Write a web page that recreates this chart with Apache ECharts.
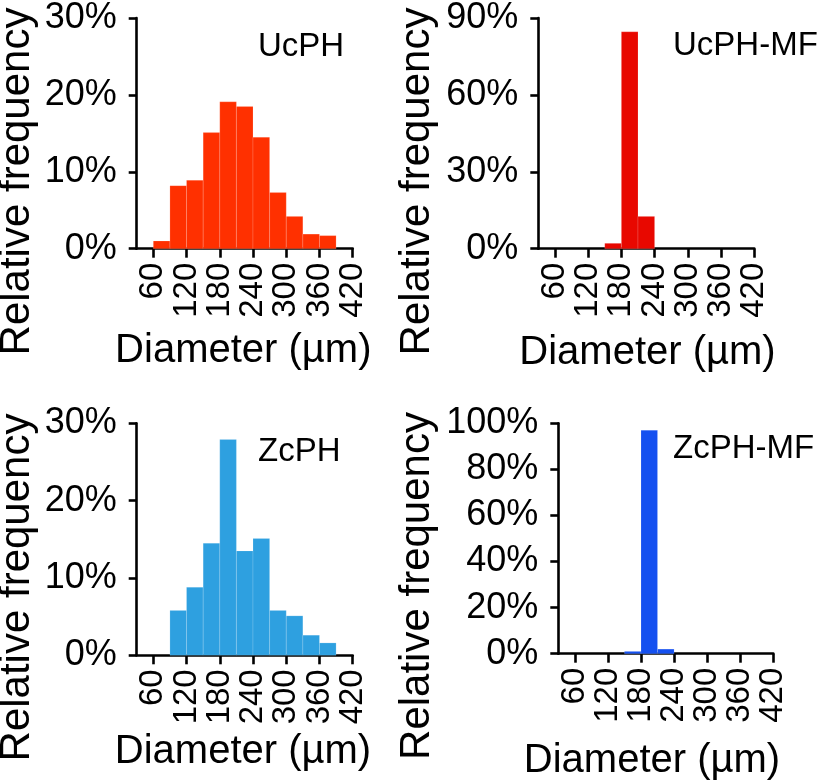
<!DOCTYPE html>
<html>
<head>
<meta charset="utf-8">
<script src="https://cdn.jsdelivr.net/npm/echarts@6/dist/echarts.min.js"></script>
<style>
html,body{margin:0;padding:0;background:#fff;}
#chart{width:819px;height:782px;}
</style>
</head>
<body>
<div id="chart"></div>
<script>
// ---- data ----
const xTickValues = [60, 120, 180, 240, 300, 360, 420];
const xTickLabels = ['60', '120', '180', '240', '300', '360', '420'];
const binStarts = [60, 90, 120, 150, 180, 210, 240, 270, 300, 330, 360];
const binWidth = 30;
const ucph   = [1.0, 8.2, 8.9, 15.1, 19.1, 18.5, 14.5, 7.3, 4.2, 1.9, 1.7];
const ucphMF = [0, 0, 0, 2.1, 84.6, 12.6, 0, 0, 0, 0, 0];
const zcph   = [0, 5.8, 8.8, 14.5, 27.9, 13.5, 15.1, 5.8, 5.1, 2.6, 1.6];
const zcphMF = [0, 0, 0, 1.0, 97.0, 2.0, 0, 0, 0, 0, 0];
const panelNames = ['UcPH', 'UcPH-MF', 'ZcPH', 'ZcPH-MF'];
const yMax = [30, 90, 30, 100];
const yInterval = [10, 30, 10, 20];
const xTitle = 'Diameter (µm)';
const yTitle = 'Relative frequency';

const FONT = '"Liberation Sans", Arial, Helvetica, sans-serif';
const colors = ['#FF3000', '#E80800', '#2EA0E0', '#1450F0'];
const series_vals = [ucph, ucphMF, zcph, zcphMF];
const grids = [
  {left: 136.7, top: 16.7, width: 216, height: 232},
  {left: 538.3, top: 16.7, width: 216, height: 232},
  {left: 136.7, top: 423.3, width: 216, height: 232},
  {left: 558.3, top: 423.3, width: 215, height: 230.4}
];

const axisLine = {show: true, onZero: false, lineStyle: {color: '#000', width: 2.6}};
const axisTickStyle = {color: '#000', width: 2.6};

const xAxes = grids.map((g, i) => ({
  type: 'value', gridIndex: i, min: 30, max: 420,
  axisLine: axisLine,
  axisTick: {show: true, length: 9, inside: false, lineStyle: axisTickStyle, customValues: xTickValues},
  axisLabel: {
    show: true, customValues: xTickValues, rotate: 90, margin: 14,
    hideOverlap: false, showMinLabel: true, showMaxLabel: true,
    fontSize: 33, fontFamily: FONT, color: '#000',
    formatter: v => xTickLabels[xTickValues.indexOf(v)]
  },
  splitLine: {show: false}
}));
const yAxes = grids.map((g, i) => ({
  type: 'value', gridIndex: i, min: 0, max: yMax[i], interval: yInterval[i],
  axisLine: axisLine,
  axisTick: {show: true, length: 8, inside: false, lineStyle: axisTickStyle},
  axisLabel: {show: true, margin: 20, fontSize: 36, fontFamily: FONT, color: '#000', formatter: '{value}%',
    hideOverlap: false, showMinLabel: true, showMaxLabel: true},
  splitLine: {show: false}
}));

const series = series_vals.map((vals, i) => ({
  type: 'custom', xAxisIndex: i, yAxisIndex: i,
  encode: {x: [0, 1], y: 2},
  data: binStarts.map((s, k) => [s, s + binWidth, vals[k]]).filter(d => d[2] > 0),
  renderItem: function (params, api) {
    const p0 = api.coord([api.value(0), api.value(2)]);
    const p1 = api.coord([api.value(1), 0]);
    return {
      type: 'rect',
      shape: {x: p0[0], y: p0[1], width: p1[0] - p0[0], height: p1[1] - p0[1]},
      style: {fill: colors[i], stroke: 'rgba(255,255,255,0.25)', lineWidth: 0.6}
    };
  }
}));

function txt(x, y, text, size, align, rot) {
  return {
    type: 'text', x: x, y: y, rotation: rot || 0,
    style: {text: text, fill: '#000', font: size + 'px ' + FONT, align: align, verticalAlign: 'middle'}
  };
}

const graphic = [
  txt(258, 46.5, panelNames[0], 33, 'left'),
  txt(673, 46, panelNames[1], 33, 'left'),
  txt(258, 452, panelNames[2], 33, 'left'),
  txt(673, 449, panelNames[3], 33, 'left'),
  txt(243.3, 351, xTitle, 40, 'center'),
  txt(647.5, 352.5, xTitle, 40, 'center'),
  txt(243, 751.5, xTitle, 40, 'center'),
  txt(652, 760.5, xTitle, 40, 'center'),
  txt(17, 181.5, yTitle, 42, 'center', Math.PI / 2),
  txt(417, 181.5, yTitle, 42, 'center', Math.PI / 2),
  txt(17, 587.5, yTitle, 42, 'center', Math.PI / 2),
  txt(417, 586, yTitle, 42, 'center', Math.PI / 2)
];

const chart = echarts.init(document.getElementById('chart'), null, {renderer: 'canvas'});
chart.setOption({
  backgroundColor: '#fff',
  animation: false,
  grid: grids.map(g => Object.assign({containLabel: false}, g)),
  xAxis: xAxes,
  yAxis: yAxes,
  series: series,
  graphic: graphic
});
</script>
</body>
</html>
